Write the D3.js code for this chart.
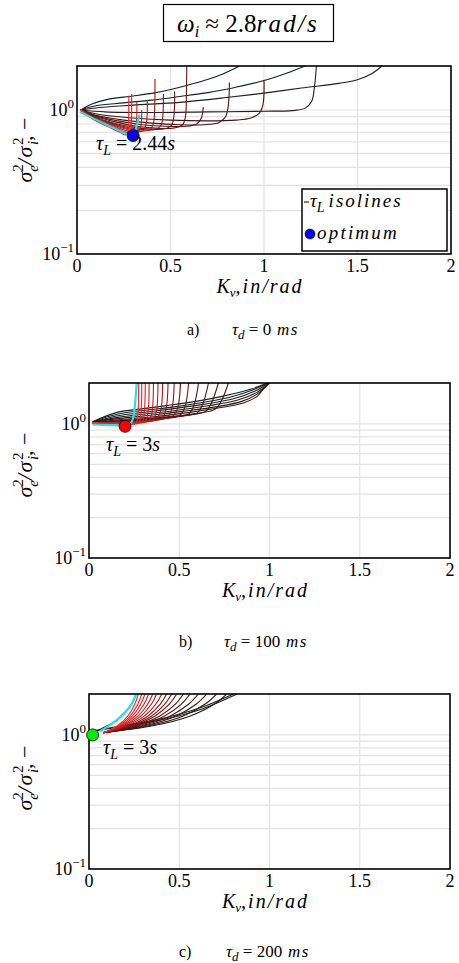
<!DOCTYPE html>
<html><head><meta charset="utf-8">
<script src="https://cdn.jsdelivr.net/npm/d3@7"></script>
<style>body{margin:0;background:#fff}</style>
</head><body>
<svg id="fig" width="459" height="963"></svg>
<script>
// ---- axes ----
const kvTicks = [0, 0.5, 1, 1.5, 2];
const kvGrid = [0.5, 1, 1.5];
const ratioMajor = [0.1, 1];
const ratioGrid = [0.2, 0.3, 0.4, 0.5, 0.6, 0.7, 0.8, 0.9, 1];
const kvDomain = [0, 2];
const ratioDomain = [0.1, 2.02];

// ---- tau_d = 0 ms : isolines [Kv, ratio], darkest first ----
const isolinesA = [
  [[0.02,1.0],[0.08,1.1],[0.17,1.19],[0.3,1.25],[0.42,1.32],[0.55,1.44],[0.68,1.6],[0.78,1.78],[0.87,2.02]],
  [[0.02,1.0],[0.1,1.07],[0.25,1.12],[0.4,1.17],[0.55,1.24],[0.7,1.32],[0.85,1.44],[1.0,1.6],[1.12,1.8],[1.22,2.02]],
  [[0.02,1.0],[0.12,1.04],[0.3,1.08],[0.55,1.13],[0.8,1.22],[1.0,1.31],[1.2,1.42],[1.4,1.53],[1.5,1.62],[1.58,1.8],[1.63,2.02]],
  [[0.02,1.0],[0.15,0.97],[0.4,0.96],[0.7,0.97],[1.0,0.98],[1.15,0.99],[1.22,1.03],[1.255,1.15],[1.27,1.45],[1.28,2.02]],
  [[0.02,1.0],[0.12,0.93],[0.3,0.88],[0.5,0.85],[0.7,0.84],[0.85,0.85],[0.93,0.88],[0.975,0.95],[0.995,1.1],[1.0,1.6]],
  [[0.02,1.0],[0.1,0.92],[0.25,0.85],[0.4,0.81],[0.55,0.79],[0.68,0.79],[0.76,0.82],[0.795,0.9],[0.81,1.1],[0.815,1.55]],
  [[0.02,1.0],[0.1,0.91],[0.22,0.84],[0.35,0.79],[0.48,0.77],[0.58,0.77],[0.64,0.8],[0.665,0.88],[0.675,1.05]],
  [[0.02,1.0],[0.1,0.9],[0.2,0.83],[0.32,0.77],[0.44,0.745],[0.52,0.75],[0.565,0.79],[0.58,0.9],[0.585,1.3],[0.587,2.02]],
  [[0.02,1.0],[0.1,0.89],[0.2,0.81],[0.3,0.76],[0.4,0.735],[0.47,0.74],[0.505,0.78],[0.518,0.9],[0.522,1.35]],
  [[0.02,1.0],[0.1,0.88],[0.2,0.8],[0.3,0.745],[0.38,0.725],[0.43,0.74],[0.452,0.8],[0.46,0.95],[0.462,1.29]],
  [[0.02,1.0],[0.1,0.87],[0.2,0.79],[0.28,0.74],[0.35,0.715],[0.39,0.73],[0.408,0.8],[0.415,1.0],[0.417,1.64]],
  [[0.02,1.0],[0.1,0.86],[0.2,0.78],[0.27,0.73],[0.32,0.705],[0.355,0.72],[0.37,0.8],[0.376,1.17]],
  [[0.02,1.0],[0.1,0.86],[0.2,0.77],[0.26,0.72],[0.3,0.7],[0.33,0.71],[0.342,0.78],[0.346,1.0]],
  [[0.02,1.0],[0.1,0.85],[0.2,0.76],[0.25,0.71],[0.285,0.69],[0.305,0.7],[0.316,0.77],[0.32,1.14]],
  [[0.02,1.0],[0.1,0.85],[0.18,0.76],[0.24,0.7],[0.27,0.68],[0.283,0.7],[0.29,0.8],[0.292,1.29]],
  [[0.02,1.0],[0.1,0.84],[0.18,0.75],[0.23,0.7],[0.258,0.67],[0.27,0.69],[0.275,0.8],[0.277,1.26]]
];
const bestLineA = [[0.015,0.97],[0.15,0.8],[0.29,0.665],[0.3,0.67],[0.335,0.93]];
const optimumA = [0.3, 0.665];

// ---- tau_d = 100 ms ----
const isolinesB = [
  [[0.02,1.04],[0.155,1.22],[0.3,1.3],[0.43,1.37],[0.6,1.48],[0.75,1.62],[0.9,1.82],[0.985,2.02]],
  [[0.02,1.035],[0.155,1.18],[0.3,1.26],[0.45,1.33],[0.62,1.44],[0.78,1.58],[0.91,1.8],[0.99,2.02]],
  [[0.02,1.03],[0.16,1.15],[0.3,1.22],[0.45,1.29],[0.63,1.4],[0.8,1.54],[0.92,1.76],[0.995,2.02]],
  [[0.02,1.03],[0.16,1.12],[0.32,1.19],[0.48,1.26],[0.65,1.36],[0.82,1.5],[0.93,1.72],[1.0,2.02]],
  [[0.02,1.025],[0.17,1.1],[0.34,1.16],[0.52,1.24],[0.7,1.34],[0.85,1.48],[0.94,1.7],[1.0,2.02]],
  [[0.02,1.025],[0.18,1.08],[0.36,1.13],[0.56,1.22],[0.74,1.33],[0.86,1.44],[0.93,1.6],[0.97,1.85],[0.99,2.02]],
  [[0.02,1.02],[0.3,1.09],[0.58,1.19],[0.7,1.29],[0.735,1.5],[0.772,2.02]],
  [[0.02,1.02],[0.28,1.08],[0.54,1.16],[0.65,1.25],[0.68,1.45],[0.717,2.02]],
  [[0.02,1.02],[0.26,1.07],[0.5,1.14],[0.6,1.21],[0.63,1.4],[0.662,2.02]],
  [[0.02,1.02],[0.24,1.06],[0.46,1.12],[0.55,1.18],[0.58,1.36],[0.607,2.02]],
  [[0.02,1.02],[0.22,1.05],[0.42,1.1],[0.5,1.15],[0.53,1.32],[0.552,2.02]],
  [[0.02,1.02],[0.2,1.04],[0.38,1.085],[0.46,1.13],[0.49,1.3],[0.507,2.02]],
  [[0.02,1.02],[0.19,1.035],[0.36,1.07],[0.43,1.11],[0.458,1.28],[0.472,2.02]],
  [[0.02,1.02],[0.18,1.03],[0.34,1.055],[0.4,1.09],[0.425,1.26],[0.438,2.02]],
  [[0.02,1.02],[0.17,1.025],[0.32,1.045],[0.37,1.07],[0.396,1.24],[0.408,2.02]],
  [[0.02,1.02],[0.16,1.02],[0.3,1.035],[0.35,1.06],[0.372,1.22],[0.382,2.02]],
  [[0.02,1.02],[0.15,1.015],[0.28,1.025],[0.33,1.05],[0.348,1.2],[0.357,2.02]],
  [[0.02,1.02],[0.14,1.01],[0.26,1.015],[0.31,1.04],[0.326,1.2],[0.333,2.02]],
  [[0.02,1.02],[0.13,1.005],[0.24,1.005],[0.295,1.03],[0.306,1.2],[0.312,2.02]],
  [[0.02,1.02],[0.12,1.0],[0.23,1.0],[0.275,1.02],[0.287,1.17],[0.292,2.02]],
  [[0.02,1.02],[0.12,1.0],[0.22,0.99],[0.26,1.01],[0.27,1.15],[0.275,2.02]]
];
const bestLineB = [[0.02,0.99],[0.12,0.98],[0.2,0.98],[0.23,1.0],[0.245,1.12],[0.255,1.4],[0.264,2.02]];
const optimumB = [0.2, 0.96];

// ---- tau_d = 200 ms ----
const isolinesC = [
  [[0.015,1.02],[0.09,1.15],[0.16,1.3],[0.23,1.65],[0.26,2.02]],
  [[0.03,1.08],[0.2,1.18],[0.43,1.35],[0.62,1.6],[0.8,2.02]],
  [[0.03,1.07],[0.2,1.16],[0.43,1.32],[0.63,1.57],[0.82,2.02]],
  [[0.08,1.04],[0.353,1.17],[0.558,1.38],[0.695,1.7],[0.763,2.02]],
  [[0.08,1.04],[0.331,1.17],[0.519,1.38],[0.644,1.7],[0.707,2.02]],
  [[0.08,1.04],[0.309,1.17],[0.48,1.38],[0.595,1.7],[0.652,2.02]],
  [[0.08,1.04],[0.29,1.17],[0.448,1.38],[0.553,1.7],[0.606,2.02]],
  [[0.08,1.04],[0.272,1.17],[0.416,1.38],[0.512,1.7],[0.56,2.02]],
  [[0.08,1.04],[0.257,1.17],[0.39,1.38],[0.479,1.7],[0.523,2.02]],
  [[0.08,1.04],[0.242,1.17],[0.364,1.38],[0.445,1.7],[0.486,2.02]],
  [[0.08,1.04],[0.231,1.17],[0.345,1.38],[0.42,1.7],[0.458,2.02]],
  [[0.08,1.04],[0.22,1.17],[0.325,1.38],[0.395,1.7],[0.43,2.02]],
  [[0.08,1.04],[0.209,1.17],[0.306,1.38],[0.371,1.7],[0.403,2.02]],
  [[0.08,1.04],[0.198,1.17],[0.287,1.38],[0.346,1.7],[0.375,2.02]],
  [[0.08,1.04],[0.189,1.17],[0.271,1.38],[0.326,1.7],[0.353,2.02]],
  [[0.08,1.04],[0.18,1.17],[0.255,1.38],[0.305,1.7],[0.33,2.02]],
  [[0.08,1.04],[0.172,1.17],[0.241,1.38],[0.287,1.7],[0.31,2.02]],
  [[0.08,1.04],[0.165,1.17],[0.228,1.38],[0.271,1.7],[0.292,2.02]],
  [[0.08,1.04],[0.157,1.17],[0.215,1.38],[0.254,1.7],[0.273,2.02]]
];
const bestLineC = [[0.06,1.06],[0.153,1.29],[0.227,1.63],[0.255,1.93],[0.264,2.05]];
const optimumC = [0.02, 1.0];

const panels = [
  {lines: isolinesA, best: bestLineA, opt: optimumA, optColor: "#0000ff", tau: "2.44",
   box: {l: 77, r: 451, t: 66, b: 254}, note: [96, 150], caption: ["a)", "0", 335, 187, 232], legend: true, ylabY: 150},
  {lines: isolinesB, best: bestLineB, opt: optimumB, optColor: "#ff0000", tau: "3",
   box: {l: 89, r: 450, t: 383, b: 558}, note: [106, 451], caption: ["b)", "100", 647, 179, 224], legend: false, ylabY: 465},
  {lines: isolinesC, best: bestLineC, opt: optimumC, optColor: "#00ee00", tau: "3",
   box: {l: 89, r: 450, t: 694, b: 869}, note: [103, 754], caption: ["c)", "200", 957, 179, 226], legend: false, ylabY: 778}
];

const svg = d3.select("#fig");
const SERIF = "'Liberation Serif', 'DejaVu Serif', serif";
const lineColor = d3.scaleLinear()
  .domain([0, 0.2, 0.45, 0.75, 1])
  .range(["#0c2626", "#2a1a18", "#5e1414", "#b81818", "#ff2222"]);

// title
svg.append("rect").attr("x", 163.5).attr("y", 4.5).attr("width", 170).attr("height", 37)
  .attr("fill", "none").attr("stroke", "#000").attr("stroke-width", 1.2);
const title = svg.append("text").attr("x", 248).attr("y", 32).attr("text-anchor", "middle")
  .attr("font-family", SERIF).attr("font-size", 25);
title.append("tspan").attr("font-style", "italic").text("ω");
title.append("tspan").attr("font-style", "italic").attr("font-size", 16).attr("dy", 5).text("i");
title.append("tspan").attr("dy", -5).text(" ≈ 2.8");
title.append("tspan").attr("font-style", "italic").attr("letter-spacing", 2.2).text("rad/s");

panels.forEach((p, pi) => {
  const B = p.box;
  const x = d3.scaleLinear().domain(kvDomain).range([B.l, B.r]);
  const y = d3.scaleLog().domain(ratioDomain).range([B.b, B.t]);
  const g = svg.append("g");

  const clipId = "clip" + pi;
  svg.append("clipPath").attr("id", clipId).append("rect")
    .attr("x", B.l).attr("y", B.t).attr("width", B.r - B.l).attr("height", B.b - B.t);

  // grid
  g.selectAll(".hg").data(ratioGrid).join("line")
    .attr("x1", B.l).attr("x2", B.r).attr("y1", d => y(d)).attr("y2", d => y(d))
    .attr("stroke", "#e3e3e3").attr("stroke-width", 1.2);
  g.selectAll(".vg").data(kvGrid).join("line")
    .attr("y1", B.t).attr("y2", B.b).attr("x1", d => x(d)).attr("x2", d => x(d))
    .attr("stroke", "#e3e3e3").attr("stroke-width", 1.2);

  // isolines
  const line = d3.line().x(d => x(d[0])).y(d => y(d[1])).curve(d3.curveCatmullRom.alpha(0.5));
  const n = p.lines.length;
  const plot = g.append("g").attr("clip-path", `url(#${clipId})`);
  plot.selectAll(".iso").data(p.lines).join("path")
    .attr("d", line).attr("fill", "none")
    .attr("stroke", (d, i) => lineColor(i / (n - 1)))
    .attr("stroke-width", 1.1);
  plot.append("path").datum(p.best)
    .attr("d", line)
    .attr("fill", "none").attr("stroke", "#1ee3ea").attr("stroke-width", 2.2);

  // frame
  g.append("rect").attr("x", B.l).attr("y", B.t).attr("width", B.r - B.l).attr("height", B.b - B.t)
    .attr("fill", "none").attr("stroke", "#000").attr("stroke-width", 1.6);

  // optimum marker
  g.append("circle").attr("cx", x(p.opt[0])).attr("cy", y(p.opt[1])).attr("r", 6)
    .attr("fill", p.optColor).attr("stroke", "#000").attr("stroke-width", 0.8);

  // tick labels
  g.selectAll(".xt").data(kvTicks).join("text")
    .attr("x", d => x(d)).attr("y", B.b + 18).attr("text-anchor", "middle")
    .attr("font-family", SERIF).attr("font-size", 18).text(d => d3.format("~g")(d));
  ratioMajor.forEach(v => {
    const t = g.append("text").attr("x", B.l - 3).attr("y", y(v) + 6).attr("text-anchor", "end")
      .attr("font-family", SERIF).attr("font-size", 18);
    t.append("tspan").text("10");
    t.append("tspan").attr("font-size", 13).attr("dy", -8).text(v === 1 ? "0" : "−1");
  });

  // axis titles
  const xl = g.append("text").attr("x", (B.l + B.r) / 2 - 4).attr("y", B.b + 39).attr("text-anchor", "middle")
    .attr("font-family", SERIF).attr("font-size", 20).attr("font-style", "italic");
  xl.append("tspan").text("K");
  xl.append("tspan").attr("font-size", 13).attr("dy", 4).text("v");
  xl.append("tspan").attr("dy", -4).attr("letter-spacing", 2).text(",in/rad");

  const yl = g.append("text").attr("transform", `translate(${32},${p.ylabY}) rotate(-90)`)
    .attr("text-anchor", "middle").attr("font-family", SERIF).attr("font-size", 22).attr("font-style", "italic");
  yl.append("tspan").text("σ");
  yl.append("tspan").attr("font-size", 15).attr("font-style", "normal").attr("dy", -9).text("2");
  yl.append("tspan").attr("font-size", 15).attr("dx", -7.5).attr("dy", 15).text("e");
  yl.append("tspan").attr("dy", -6).attr("letter-spacing", 1.5).text("/σ");
  yl.append("tspan").attr("font-size", 15).attr("font-style", "normal").attr("dy", -9).text("2");
  yl.append("tspan").attr("font-size", 15).attr("dx", -7.5).attr("dy", 15).text("i");
  yl.append("tspan").attr("dy", -6).attr("font-style", "normal").text(", −");

  // optimum annotation
  const nt = g.append("text").attr("x", p.note[0]).attr("y", p.note[1])
    .attr("font-family", SERIF).attr("font-size", 20);
  nt.append("tspan").attr("font-style", "italic").text("τ");
  nt.append("tspan").attr("font-style", "italic").attr("font-size", 14).attr("dy", 5).text("L");
  nt.append("tspan").attr("dy", -5).text(" = " + p.tau);
  nt.append("tspan").attr("font-style", "italic").text("s");

  // caption
  const c = p.caption;
  g.append("text").attr("x", c[3]).attr("y", c[2]).attr("font-family", SERIF).attr("font-size", 16).text(c[0]);
  const ct = g.append("text").attr("x", c[4]).attr("y", c[2]).attr("font-family", SERIF).attr("font-size", 17);
  ct.append("tspan").attr("font-style", "italic").text("τ");
  ct.append("tspan").attr("font-style", "italic").attr("font-size", 13).attr("dy", 4).text("d");
  ct.append("tspan").attr("dy", -4).text(" = " + c[1]);
  ct.append("tspan").attr("font-style", "italic").attr("letter-spacing", 1.5).text(" ms");

  // legend
  if (p.legend) {
    const lg = g.append("g");
    lg.append("rect").attr("x", 302).attr("y", 189).attr("width", 145).attr("height", 62)
      .attr("fill", "#fff").attr("stroke", "#000").attr("stroke-width", 1.5);
    lg.append("line").attr("x1", 304).attr("x2", 309).attr("y1", 202).attr("y2", 202)
      .attr("stroke", "#1c2a2a").attr("stroke-width", 1.2);
    const t1 = lg.append("text").attr("x", 310).attr("y", 207).attr("font-family", SERIF)
      .attr("font-size", 19).attr("font-style", "italic");
    t1.append("tspan").text("τ");
    t1.append("tspan").attr("font-size", 14).attr("dy", 5).text("L");
    t1.append("tspan").attr("dy", -5).attr("dx", 4).attr("letter-spacing", 2).text("isolines");
    lg.append("circle").attr("cx", 310).attr("cy", 234).attr("r", 5)
      .attr("fill", "#0000ff").attr("stroke", "#000").attr("stroke-width", 0.6);
    lg.append("text").attr("x", 317).attr("y", 239).attr("font-family", SERIF)
      .attr("font-size", 19).attr("font-style", "italic").attr("letter-spacing", 2.2).text("optimum");
  }
});
</script>
</body></html>
